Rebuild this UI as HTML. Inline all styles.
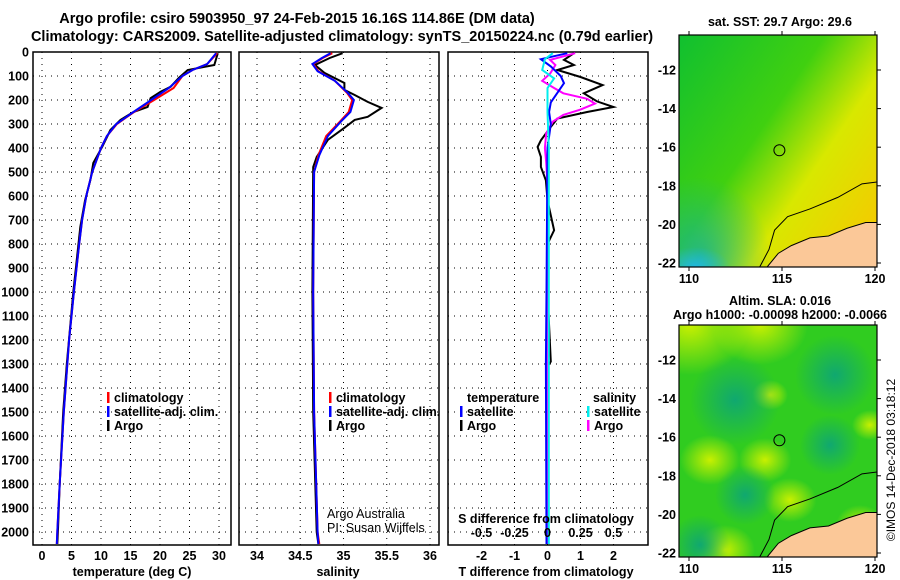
<!DOCTYPE html>
<html><head><meta charset="utf-8"><style>
html,body{margin:0;padding:0;background:#fff;overflow:hidden;}
svg{display:block;font-family:"Liberation Sans",sans-serif;}
.t{font-weight:bold;font-size:14.5px;fill:#000;}
.tk{font-weight:bold;font-size:12.5px;fill:#000;}
.lg{font-weight:bold;font-size:12.5px;fill:#000;}
</style></head><body>
<svg id="c" width="900" height="580" viewBox="0 0 900 580">
<defs>
<clipPath id="clip1"><rect x="679" y="35" width="198" height="232"/></clipPath>
<clipPath id="clip2"><rect x="679" y="325" width="198" height="232"/></clipPath>
<linearGradient id="sst" x1="0" y1="0" x2="1" y2="0.8">
<stop offset="0" stop-color="#10c030"/><stop offset="0.45" stop-color="#40d010"/><stop offset="0.7" stop-color="#d8e800"/><stop offset="1" stop-color="#f2cc00"/></linearGradient>
<radialGradient id="tl"><stop offset="0" stop-color="#10b0a0"/><stop offset="1" stop-color="#10b0a0" stop-opacity="0"/></radialGradient>
<radialGradient id="yb"><stop offset="0" stop-color="#c8f000"/><stop offset="1" stop-color="#c8f000" stop-opacity="0"/></radialGradient>
<radialGradient id="db"><stop offset="0" stop-color="#10a870"/><stop offset="1" stop-color="#10a870" stop-opacity="0"/></radialGradient>
<radialGradient id="bl"><stop offset="0" stop-color="#20b8e0"/><stop offset="1" stop-color="#20b8e0" stop-opacity="0"/></radialGradient>
</defs>
<text class="t" x="297" y="23" text-anchor="middle">Argo profile: csiro 5903950_97 24-Feb-2015 16.16S 114.86E (DM data)</text>
<text class="t" x="342" y="41" text-anchor="middle">Climatology: CARS2009. Satellite-adjusted climatology: synTS_20150224.nc (0.79d earlier)</text>
<g id="p1"></g>
<g id="p2"></g>
<g id="p3"></g>
<g id="maps"></g>
</svg>
<script>
// ---- data ----
const depthTicks=[0,100,200,300,400,500,600,700,800,900,1000,1100,1200,1300,1400,1500,1600,1700,1800,1900,2000];
const tempTicks=[0,5,10,15,20,25,30];
const salTicks=[34,34.5,35,35.5,36];
const tdiffTicks=[-2,-1,0,1,2];
const sdiffTickLabels=["-0.5","-0.25","0","0.25","0.5"];
const sdiffTicks=[-0.5,-0.25,0,0.25,0.5];

const argoDepth=[5,54,75,108,145,166,192,229,250,283,325,395,462,533,617,729,1000,1300,1500,1800,2000,2050];
const argoTemp=[29.8,29.2,24.7,23.2,21.8,20.1,18.4,17.9,15.5,13.3,11.6,10.2,8.7,8.2,7.3,6.5,5.3,4.2,3.6,3.0,2.7,2.6];
const climDepth=[5,50,75,100,150,200,250,300,350,400,500,600,700,800,1000,1200,1500,1800,2000,2050];
const climTemp=[29.7,28,25.5,23.8,22.3,19,15.6,12.7,11,10,8.5,7.5,6.8,6.3,5.4,4.6,3.7,3.0,2.6,2.5];
const satTemp=[29.5,28,25.5,23.8,21.5,18.5,15.5,12.6,11,10,8.5,7.5,6.8,6.3,5.4,4.6,3.7,3.0,2.6,2.5];

const argoSalDepth=[5,25,54,87,129,158,179,208,233,270,283,316,366,437,479,1000,1500,2000,2050];
const argoSal=[34.99,34.84,34.67,34.78,35.01,35.01,35.13,35.28,35.44,35.28,35.13,35.01,34.82,34.69,34.65,34.64,34.65,34.69,34.71];
const climSalDepth=[5,25,50,80,120,170,200,250,290,350,430,500,1000,1500,2000,2050];
const climSal=[34.87,34.76,34.65,34.71,34.9,35.04,35.1,35.06,34.96,34.8,34.71,34.66,34.65,34.66,34.7,34.72];
const satSal=[34.85,34.75,34.64,34.7,34.9,35.05,35.12,35.08,34.97,34.82,34.72,34.66,34.65,34.66,34.7,34.71];

const dTArgoDepth=[5,33,54,75,104,138,172,206,229,250,277,312,368,396,437,479,535,618,743,800,1000,1290,1310,1500,2050];
const dTArgo=[0.8,0.5,0.8,0.3,1.0,1.67,1.1,1.5,2.0,1.2,0.3,0.1,-0.2,-0.3,-0.2,-0.2,-0.05,0,0.2,0,0,0.1,0,0,0];
const dTSatDepth=[5,30,60,100,130,170,210,250,300,400,1000,1300,2050];
const dTSat=[0.6,-0.2,0.1,0.4,0.5,0.3,0.1,0.05,0.1,0,-0.03,-0.05,-0.03];
const dSArgoDepth=[5,33,54,90,120,150,172,195,215,240,262,290,340,400,460,550,2050];
const dSArgo=[0.21,0.02,0.06,0.02,-0.04,0.05,0.12,0.3,0.36,0.25,0.12,0.04,-0.01,-0.02,-0.01,0,0];
const dSSatDepth=[5,30,75,110,150,200,250,400,1000,2050];
const dSSat=[0.04,-0.02,-0.04,0.05,0,0,0,0.01,0.01,0.01];

// ---- helpers ----
const NS="http://www.w3.org/2000/svg";
function mk(tag,attrs,parent,txt){const e=document.createElementNS(NS,tag);for(const k in attrs)e.setAttribute(k,attrs[k]);if(txt!==undefined)e.textContent=txt;parent.appendChild(e);return e;}
const yD=d=>52+d*0.24;
const TOP=52,BOT=545;

function frame(g,x0,x1,vx,name){
  depthTicks.forEach(d=>{const l=mk('line',{x1:x0,x2:x1,y1:yD(d),y2:yD(d),stroke:'#000','stroke-width':1,'stroke-dasharray':'1,5'},g);
  
  });
  vx.forEach(x=>{const l=mk('line',{x1:x,x2:x,y1:TOP,y2:BOT,stroke:'#000','stroke-width':1,'stroke-dasharray':'1,5'},g);
  
  });
  const r=mk('rect',{x:x0,y:TOP,width:x1-x0,height:BOT-TOP,fill:'none',stroke:'#000','stroke-width':1.5},g);
  
  
}
function line(g,xs,ds,fx,color,name){
  const pts=xs.map((v,i)=>fx(v).toFixed(1)+','+yD(ds[i]).toFixed(1)).join(' ');
  const p=mk('polyline',{points:pts,fill:'none',stroke:color,'stroke-width':2},g);
  
  
}
function legend(g,x,y,color,label,name){
  const r=mk('rect',{x:x,y:y-10,width:2.5,height:11,fill:color},g);
  
  
  const t=mk('text',{x:x+7,y:y,class:'lg'},g,label);
  
  
}

// ---- depth axis labels ----
const svg=document.getElementById('c');
const yax=mk('g',{},svg);


depthTicks.forEach(d=>{const t=mk('text',{x:29,y:yD(d)+4.5,class:'tk','text-anchor':'end'},yax,String(d));

});

// ---- panel 1 temperature ----
const p1=document.getElementById('p1');
const xT=v=>42+v*5.9;
frame(p1,33,231,tempTicks.map(xT),'temperature');
line(p1,argoTemp,argoDepth,xT,'#000','argo-temperature-line');
line(p1,climTemp,climDepth,xT,'#f00','climatology-temperature-line');
line(p1,satTemp,climDepth,xT,'#00f','satellite-temperature-line');
tempTicks.forEach(v=>{const t=mk('text',{x:xT(v),y:560,class:'tk','text-anchor':'middle'},p1,String(v));

});
mk('text',{x:132,y:576,class:'tk','text-anchor':'middle',},p1,'temperature (deg C)');
legend(p1,107,402,'#f00','climatology','legend-climatology');
legend(p1,107,416,'#00f','satellite-adj. clim.','legend-satellite');
legend(p1,107,430,'#000','Argo','legend-argo');

// ---- panel 2 salinity ----
const p2=document.getElementById('p2');
const xS=v=>257+(v-34)*86.5;
frame(p2,239,439,salTicks.map(xS),'salinity');
line(p2,argoSal,argoSalDepth,xS,'#000','argo-salinity-line');
line(p2,climSal,climSalDepth,xS,'#f00','climatology-salinity-line');
line(p2,satSal,climSalDepth,xS,'#00f','satellite-salinity-line');
salTicks.forEach(v=>{const t=mk('text',{x:xS(v),y:560,class:'tk','text-anchor':'middle'},p2,String(v));

});
mk('text',{x:338,y:576,class:'tk','text-anchor':'middle',},p2,'salinity');
legend(p2,329,402,'#f00','climatology','legend-climatology');
legend(p2,329,416,'#00f','satellite-adj. clim.','legend-satellite');
legend(p2,329,430,'#000','Argo','legend-argo');
mk('text',{x:327,y:518,'font-size':'12.5',},p2,'Argo Australia');
mk('text',{x:327,y:532,'font-size':'12.5',},p2,'PI: Susan Wijffels');

// ---- panel 3 differences ----
const p3=document.getElementById('p3');
const xdT=v=>547.5+v*33;
const xdS=v=>547.5+v*132;
frame(p3,448,648,tdiffTicks.map(xdT),'difference');
line(p3,dTArgo,dTArgoDepth,xdT,'#000','argo-temp-diff-line');
line(p3,dSArgo,dSArgoDepth,xdS,'#f0f','argo-sal-diff-line');
line(p3,dTSat,dTSatDepth,xdT,'#00f','satellite-temp-diff-line');
line(p3,dSSat,dSSatDepth,xdS,'#0ee','satellite-sal-diff-line');
tdiffTicks.forEach(v=>{const t=mk('text',{x:xdT(v),y:560,class:'tk','text-anchor':'middle'},p3,String(v));

});
sdiffTicks.forEach((v,i)=>{const t=mk('text',{x:xdS(v),y:537,class:'tk','text-anchor':'middle'},p3,sdiffTickLabels[i]);

});
mk('text',{x:546,y:523,class:'tk','text-anchor':'middle',},p3,'S difference from climatology');
mk('text',{x:546,y:576,class:'tk','text-anchor':'middle',},p3,'T difference from climatology');
mk('text',{x:467,y:402,class:'lg',},p3,'temperature');
legend(p3,460,416,'#00f','satellite','legend-temp-satellite');
legend(p3,460,430,'#000','Argo','legend-temp-argo');
mk('text',{x:593,y:402,class:'lg',},p3,'salinity');
legend(p3,587,416,'#0ee','satellite','legend-sal-satellite');
legend(p3,587,430,'#f0f','Argo','legend-sal-argo');

// ---- maps ----
const maps=document.getElementById('maps');
const lonX=v=>689+(v-110)*18.6;
const latY1=v=>70+(-12-v)*19.3;
const latY2=v=>360+(-12-v)*19.3;
const lonTicks=[110,115,120];
const latTicks=[-12,-14,-16,-18,-20,-22];
function mapBox(y0,y1,latY,title1,title2,kind,clip){
  const g=mk('g',{},maps);
  
  
  const c=mk('g',{'clip-path':'url(#'+clip+')'},g);
  if(kind==='sst'){
    mk('rect',{x:679,y:y0,width:198,height:y1-y0,fill:'url(#sst)'},c);
    mk('ellipse',{cx:700,cy:y1-10,rx:70,ry:80,fill:'url(#tl)',opacity:0.8},c);
    mk('ellipse',{cx:695,cy:y1,rx:35,ry:20,fill:'url(#bl)'},c);
  }else{
    mk('rect',{x:679,y:y0,width:198,height:y1-y0,fill:'#30cc20'},c);
    [[690,0,50],[760,0,40],[710,135,25],[765,135,22],[790,175,22],[725,225,25],[770,70,15],[860,200,20],[870,100,15]].forEach(b=>mk('ellipse',{cx:b[0],cy:y0+b[1],rx:b[2]*1.2,ry:b[2],fill:'url(#yb)'},c));
    [[735,75,45],[745,170,30],[835,50,40],[700,220,30],[830,120,30]].forEach(b=>mk('ellipse',{cx:b[0],cy:y0+b[1],rx:b[2],ry:b[2],fill:'url(#db)'},c));
  }
  mk('polygon',{points:`${lonX(114.2)},${y1} ${lonX(114.8)},${latY(-21.5)} ${lonX(115.5)},${latY(-21.1)} ${lonX(116.5)},${latY(-20.7)} ${lonX(117.5)},${latY(-20.6)} ${lonX(118.5)},${latY(-20.2)} ${lonX(119.5)},${latY(-19.9)} 877,${latY(-19.9)} 877,${y1}`,fill:'#fbc898',stroke:'#000','stroke-width':1},c);
  mk('polyline',{points:`${lonX(113.8)},${y1} ${lonX(114.3)},${latY(-21.3)} ${lonX(114.6)},${latY(-20.3)} ${lonX(115.3)},${latY(-19.6)} ${lonX(116.5)},${latY(-19.2)} ${lonX(118)},${latY(-18.6)} ${lonX(119.3)},${latY(-17.9)} 877,${latY(-17.8)}`,fill:'none',stroke:'#000','stroke-width':1},c);
  mk('circle',{cx:lonX(114.86),cy:latY(-16.16),r:5.5,fill:'none',stroke:'#000','stroke-width':1,},g);
  mk('rect',{x:679,y:y0,width:198,height:y1-y0,fill:'none',stroke:'#000','stroke-width':1.2},g);
  lonTicks.forEach(v=>{mk('line',{x1:lonX(v),x2:lonX(v),y1:y1,y2:y1+4,stroke:'#000'},g);mk('line',{x1:lonX(v),x2:lonX(v),y1:y0,y2:y0-4,stroke:'#000'},g);
    const t=mk('text',{x:lonX(v),y:y1+16,class:'tk','text-anchor':'middle'},g,String(v));
    
    });
  latTicks.forEach(v=>{mk('line',{x1:877,x2:881,y1:latY(v),y2:latY(v),stroke:'#000'},g);
    const t=mk('text',{x:676,y:latY(v)+4.5,class:'tk','text-anchor':'end'},g,String(v));
    
    });
  mk('text',{x:780,y:y0-(title2?20:9),class:'tk','text-anchor':'middle',},g,title1);
  if(title2) mk('text',{x:780,y:y0-6,class:'tk','text-anchor':'middle',},g,title2);
}
mapBox(35,267,latY1,'sat. SST: 29.7 Argo: 29.6',null,'sst','clip1');
mapBox(325,557,latY2,'Altim. SLA: 0.016','Argo h1000: -0.00098 h2000: -0.0066','sla','clip2');
mk('text',{x:895,y:460,'font-size':'12',transform:'rotate(-90 895 460)','text-anchor':'middle',},maps,'©IMOS 14-Dec-2018 03:18:12');
</script>
</body></html>
